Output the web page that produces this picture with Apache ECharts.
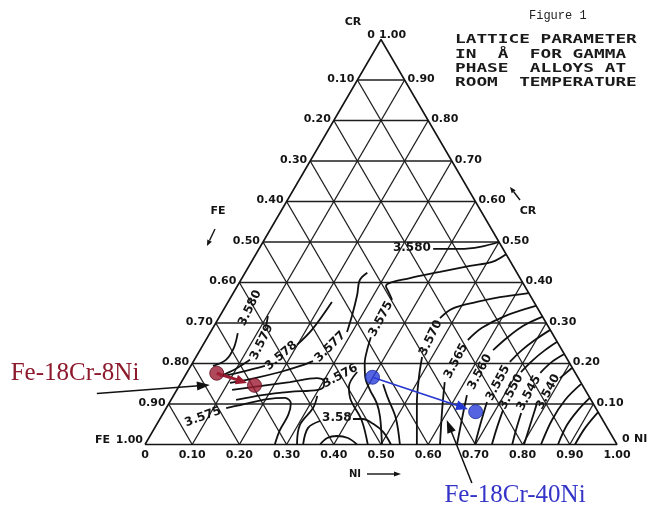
<!DOCTYPE html>
<html>
<head>
<meta charset="utf-8">
<script src="https://cdn.jsdelivr.net/npm/echarts@6/dist/echarts.min.js"></script>
<style>
  html, body { margin: 0; padding: 0; background: #ffffff; }
  #chart { width: 652px; height: 512px; }
</style>
</head>
<body>
<div id="chart"></div>
<script>
// Compositions are written as [Ni %, Cr %]; Fe is the balance to 100 %.

// ---- grid and tick labels ----
const gridTicks = [10, 20, 30, 40, 50, 60, 70, 80, 90];
const niTickLabels = ['0', '0.10', '0.20', '0.30', '0.40', '0.50', '0.60', '0.70', '0.80', '0.90', '1.00'];
const feTickLabels = ['0.10', '0.20', '0.30', '0.40', '0.50', '0.60', '0.70', '0.80', '0.90']; // left edge, top to bottom
const crTickLabels = ['0.90', '0.80', '0.70', '0.60', '0.50', '0.40', '0.30', '0.20', '0.10']; // right edge, top to bottom
const feCornerLabels = ['FE', '1.00'];
const niCornerLabels = ['0', 'NI'];
const crCornerLabels = ['0', '1.00', 'CR'];

// ---- iso-lattice-parameter lines (Å) ----
const iso3580L   = [[4.7, 19.4], [6.7, 20.9], [6.9, 23.8], [5.9, 27.5]];
const iso3579Lo  = [[7.4, 16.9], [9.8, 18.6], [11.8, 20.9]];
const iso3579Hi  = [[11.0, 29.3], [10.2, 31.7]];
const iso3578Lo  = [[8.1, 16.9], [12.1, 18.1], [15.7, 19.4]];
const iso3578Hi  = [[19.9, 24.6], [21.2, 28.3], [22.0, 35.2]];
const iso3577Lo  = [[10.4, 15.2], [15.1, 16.4], [19.7, 17.9], [23.2, 19.4], [25.3, 20.6]];
const iso3577Hi  = [[28.9, 27.8], [27.9, 32.0], [26.5, 36.9], [25.2, 40.6], [25.9, 42.4]];
const iso3576Loop = [[11.7, 13.5], [17.1, 14.4], [23.0, 15.4], [28.2, 16.4], [30.1, 15.7], [30.7, 14.4],
                     [29.9, 13.5], [24.2, 13.0], [18.7, 12.2], [13.8, 11.0]];
const iso3576Tail = [[36.0, 17.9], [36.1, 14.2], [38.1, 11.0], [42.9, 6.0], [47.2, 0]];
const iso3575L   = [[12.7, 9.0], [15.3, 9.75], [20.4, 11.2], [23.9, 11.5], [25.8, 10.2], [26.7, 7.3], [26.8, 3.6], [27.5, 0]];
const iso3575In  = [[30.5, 12.0], [31.1, 9.0], [30.4, 4.8], [32.2, 0]];
const iso358L    = [[33.5, 0], [32.5, 4.1], [34.2, 5.8]];
const iso358R    = [[40.9, 6.3], [43.0, 6.3], [45.8, 5.1], [48.9, 3.1], [52.1, 0]];
const iso358Core = [[37.1, 0], [37.8, 1.6], [39.6, 2.1], [42.2, 1.6], [44.9, 0]];
const iso3575Up  = [[53.0, 47.0], [51.0, 45.1], [46.8, 44.1], [41.2, 42.6], [35.6, 41.1], [31.5, 39.1], [33.0, 37.4], [34.5, 35.7]];
const iso3575Dn  = [[34.6, 26.5], [35.4, 23.3], [36.5, 20.1], [38.3, 16.7], [40.9, 13.5], [44.0, 10.2], [46.4, 6.8], [50.2, 0]];
const iso3575Side = [[43.0, 14.9], [45.7, 11.5], [49.9, 6.5], [54.0, 0]];
const iso3580R   = [[36.9, 48.3], [42.6, 48.3], [46.6, 48.8], [50.0, 50.0]];
const iso3570Up  = [[62.6, 37.4], [57.0, 36.4], [52.7, 35.2], [48.3, 33.5], [46.9, 31.2]];
const iso3570Dn  = [[47.9, 21.6], [49.7, 16.7], [52.5, 10.2], [57.6, 0]];
const iso3565Up  = [[65.7, 34.2], [60.4, 31.7], [57.0, 28.8], [55.5, 25.8]];
const iso3565Dn  = [[55.8, 15.4], [58.7, 8.5], [62.5, 0]];
const iso3560Up  = [[68.4, 31.5], [65.5, 29.3], [63.5, 26.3], [62.1, 23.3]];
const iso3560Dn  = [[62.1, 12.2], [64.1, 6.0], [66.1, 0]];
const iso3555Up  = [[71.7, 28.3], [69.7, 25.8], [68.2, 23.3], [67.1, 20.4]];
const iso3555Dn  = [[67.2, 10.5], [68.4, 5.6], [69.9, 0]];
const iso3550Up  = [[74.6, 25.3], [73.1, 23.3], [71.8, 20.9], [70.7, 17.9]];
const iso3550Dn  = [[71.6, 8.5], [72.5, 4.1], [73.5, 0]];
const iso3545Up  = [[77.6, 22.3], [76.0, 20.4], [74.9, 17.7]];
const iso3545Dn  = [[75.8, 7.8], [76.8, 3.6], [77.8, 0]];
const iso3540Up  = [[81.0, 18.9], [79.7, 16.4]];
const iso3540Dn  = [[78.0, 10.0], [79.2, 4.8], [80.3, 0]];
const isoEdge1   = [[83.9, 0], [83.2, 6.0], [83.5, 11.0], [84.9, 14.9]];
const isoEdge2   = [[87.5, 0], [87.0, 4.8], [87.5, 8.5], [88.5, 11.5]];
const isoEdge3   = [[91.1, 0], [91.2, 4.1], [92.0, 8.0]];

// label text and anchor [text, Ni %, Cr %]
const contourLabels = [
  ['3.580', 5.4, 33.7], ['3.579', 12.1, 25.3], ['3.578', 17.9, 21.9], ['3.577', 27.2, 24.1],
  ['3.576', 32.9, 16.9], ['3.575', 8.9, 6.8], ['3.58', 37.4, 6.5], ['3.575', 34.5, 31.0],
  ['3.580', 32.3, 48.5], ['3.570', 47.4, 26.3], ['3.565', 55.6, 20.6], ['3.560', 62.0, 17.9],
  ['3.555', 67.2, 15.2], ['3.550', 71.1, 13.0], ['3.545', 75.0, 12.7], ['3.540', 78.9, 13.0]
];
const contourLabelAngles = [64, 64, 40, 45, 28, 20, 0, 62, 0, 64, 62, 62, 62, 62, 62, 62];

// ---- alloys: nominal composition -> shifted composition ----
const fe18cr8ni  = [[6.4, 17.6], [15.9, 14.6]];
const fe18cr40ni = [[39.9, 16.6], [66.0, 8.1]];
// callout pointers (tail, tip)
const pointer8ni  = [[-16.5, 12.6], [6.4, 14.7]];
const pointer40ni = [[74.0, -9.5], [60.9, 6.05]];

// ---- helpers ----
function toXY(p) { return [(p[0] + p[1] / 2) / 100, p[1] / 100]; }

const ink = '#141414';
const numFont = 'DejaVu Sans';
const numSize = 11;
const numWeight = 'bold';

function polyline(points, width, color, smooth, z) {
  return {
    type: 'line', data: points.map(toXY), symbol: 'none', showSymbol: false,
    smooth: smooth, silent: true, clip: false, z: z,
    lineStyle: { color: color, width: width }
  };
}

function numText(s, x, y, align, size) {
  return { type: 'text', x: x, y: y,
    style: { text: s, fill: ink, fontFamily: numFont, fontSize: size || numSize, fontWeight: numWeight,
             align: align, verticalAlign: 'middle' } };
}

function arrowGroup(p1, p2, back, headLen, headW, color, width) {
  const dx = p2[0] - p1[0], dy = p2[1] - p1[1];
  const len = Math.hypot(dx, dy) || 1;
  const ux = dx / len, uy = dy / len, px = -uy, py = ux;
  const tip = [p2[0] - ux * back, p2[1] - uy * back];
  const base = [tip[0] - ux * headLen, tip[1] - uy * headLen];
  return {
    type: 'group', children: [
      { type: 'line', shape: { x1: p1[0], y1: p1[1], x2: base[0] + ux * 2, y2: base[1] + uy * 2 },
        style: { stroke: color, lineWidth: width } },
      { type: 'polygon', shape: { points: [tip,
          [base[0] + px * headW / 2, base[1] + py * headW / 2],
          [base[0] - px * headW / 2, base[1] - py * headW / 2]] },
        style: { fill: color } }
    ]
  };
}

// ---- series ----
const series = [];

// triangle frame and 0.10 grid
const gridSegments = [];
gridTicks.forEach(function (t) {
  gridSegments.push([[0, t], [100 - t, t]]);      // constant Cr
  gridSegments.push([[t, 0], [t, 100 - t]]);      // constant Ni
  gridSegments.push([[100 - t, 0], [0, 100 - t]]); // constant Fe
});
gridSegments.forEach(function (s) { series.push(polyline(s, 1.3, '#1e1e1e', false, 1)); });
series.push(polyline([[0, 0], [100, 0], [0, 100], [0, 0]], 1.6, ink, false, 2));

// contour lines
[iso3580L, iso3579Lo, iso3579Hi, iso3578Lo, iso3578Hi, iso3577Lo, iso3577Hi, iso3576Loop, iso3576Tail,
 iso3575L, iso3575In, iso358L, iso358R, iso358Core, iso3575Up, iso3575Dn, iso3575Side, iso3580R,
 iso3570Up, iso3570Dn, iso3565Up, iso3565Dn, iso3560Up, iso3560Dn, iso3555Up, iso3555Dn,
 iso3550Up, iso3550Dn, iso3545Up, iso3545Dn, iso3540Up, iso3540Dn, isoEdge1, isoEdge2, isoEdge3
].forEach(function (c) { series.push(polyline(c, 1.8, '#111111', 0.35, 3)); });

// contour value labels
series.push({
  type: 'custom', coordinateSystem: 'cartesian2d', silent: true, z: 6,
  data: contourLabels.map(function (l) { return toXY([l[1], l[2]]); }),
  renderItem: function (params, api) {
    const i = params.dataIndex;
    const p = api.coord([api.value(0), api.value(1)]);
    const t = numText(contourLabels[i][0], p[0], p[1], 'center', 12);
    t.rotation = contourLabelAngles[i] * Math.PI / 180;
    return t;
  }
});

// left edge (Fe) and right edge (Cr) tick labels
series.push({
  type: 'custom', coordinateSystem: 'cartesian2d', silent: true, z: 6,
  data: feTickLabels.map(function (t, k) { return toXY([0, 90 - 10 * k]); }),
  renderItem: function (params, api) {
    const p = api.coord([api.value(0), api.value(1)]);
    return numText(feTickLabels[params.dataIndex], p[0] - 3, p[1] - 1, 'right');
  }
});
series.push({
  type: 'custom', coordinateSystem: 'cartesian2d', silent: true, z: 6,
  data: crTickLabels.map(function (t, k) { const cr = 90 - 10 * k; return toXY([100 - cr, cr]); }),
  renderItem: function (params, api) {
    const p = api.coord([api.value(0), api.value(1)]);
    return numText(crTickLabels[params.dataIndex], p[0] + 3, p[1] - 1, 'left');
  }
});

// corner labels
series.push({
  type: 'custom', coordinateSystem: 'cartesian2d', silent: true, z: 6,
  data: [toXY([0, 0]), toXY([100, 0]), toXY([0, 100])],
  renderItem: function (params, api) {
    const p = api.coord([api.value(0), api.value(1)]);
    let kids;
    if (params.dataIndex === 0) {
      kids = [numText(feCornerLabels[0], p[0] - 35, p[1] - 4, 'right'),
              numText(feCornerLabels[1], p[0] - 2, p[1] - 4, 'right')];
    } else if (params.dataIndex === 1) {
      kids = [numText(niCornerLabels[0], p[0] + 5, p[1] - 5, 'left'),
              numText(niCornerLabels[1], p[0] + 17, p[1] - 5, 'left')];
    } else {
      kids = [numText(crCornerLabels[0], p[0] - 6, p[1] - 4, 'right'),
              numText(crCornerLabels[1], p[0] - 2, p[1] - 4, 'left'),
              numText(crCornerLabels[2], p[0] - 28, p[1] - 17, 'center')];
    }
    return { type: 'group', children: kids };
  }
});

// alloy shift arrows
const shiftArrowStyles = [
  { color: '#9a1a30', width: 3, head: 11, headW: 10 },
  { color: '#2236d0', width: 1.6, head: 12, headW: 10 }
];
series.push({
  type: 'custom', coordinateSystem: 'cartesian2d', silent: true, z: 8,
  data: [fe18cr8ni, fe18cr40ni].map(function (a) { return toXY(a[0]).concat(toXY(a[1])); }),
  encode: { x: [0, 2], y: [1, 3] },
  renderItem: function (params, api) {
    const s = shiftArrowStyles[params.dataIndex];
    const p1 = api.coord([api.value(0), api.value(1)]);
    const p2 = api.coord([api.value(2), api.value(3)]);
    return arrowGroup(p1, p2, 8, s.head, s.headW, s.color, s.width);
  }
});
series.push({
  type: 'scatter', data: fe18cr8ni.map(toXY), symbol: 'circle', symbolSize: 14, silent: true, z: 10,
  itemStyle: { color: '#9c1c33', borderColor: '#5e0d1c', borderWidth: 1 }
});
series.push({
  type: 'scatter', data: fe18cr40ni.map(toXY), symbol: 'circle', symbolSize: 14, silent: true, z: 10,
  itemStyle: { color: '#2b3fdb', borderColor: '#1a2a9c', borderWidth: 1 }
});

// callout pointers
series.push({
  type: 'custom', coordinateSystem: 'cartesian2d', silent: true, z: 9, clip: false,
  data: [pointer8ni, pointer40ni].map(function (a) { return toXY(a[0]).concat(toXY(a[1])); }),
  encode: { x: [0, 2], y: [1, 3] },
  renderItem: function (params, api) {
    const p1 = api.coord([api.value(0), api.value(1)]);
    const p2 = api.coord([api.value(2), api.value(3)]);
    return arrowGroup(p1, p2, 0, 13, 9, '#111111', 1.5);
  }
});

// ---- decorations: title block, axis names, callout texts ----
function pixelArrow(x1, y1, x2, y2, headLen, headW) {
  const dx = x2 - x1, dy = y2 - y1, len = Math.hypot(dx, dy);
  const ux = dx / len, uy = dy / len, px = -uy, py = ux;
  const bx = x2 - ux * headLen, by = y2 - uy * headLen;
  return [
    { type: 'line', shape: { x1: x1, y1: y1, x2: bx, y2: by }, style: { stroke: ink, lineWidth: 1.4 } },
    { type: 'polygon', shape: { points: [[x2, y2], [bx + px * headW / 2, by + py * headW / 2],
        [bx - px * headW / 2, by - py * headW / 2]] }, style: { fill: ink } }
  ];
}
function label(text, x, y, size, family, color, align, sx, weight) {
  return { type: 'text', x: x, y: y, scaleX: sx || 1, z: 20,
    style: { text: text, fill: color, fontFamily: family, fontSize: size, fontWeight: weight || 'normal',
             align: align, verticalAlign: 'middle' } };
}
const mono = 'DejaVu Sans Mono';
const graphic = [
  label('Figure 1', 529, 16, 12, 'Liberation Mono', '#222', 'left', 1),
  label('LATTICE PARAMETER', 455, 40, 12, mono, '#1a1a1a', 'left', 1.48, 'bold'),
  label('IN  Å  FOR GAMMA', 455, 55, 12, mono, '#1a1a1a', 'left', 1.48, 'bold'),
  label('PHASE  ALLOYS AT', 455, 69, 12, mono, '#1a1a1a', 'left', 1.48, 'bold'),
  label('ROOM  TEMPERATURE', 455, 83, 12, mono, '#1a1a1a', 'left', 1.48, 'bold'),
  label('FE', 218, 211, 11, numFont, ink, 'center', 1, 'bold'),
  label('CR', 528, 211, 11, numFont, ink, 'center', 1, 'bold'),
  label('NI', 355, 474, 10, numFont, ink, 'center', 1, 'bold'),
  label('Fe-18Cr-8Ni', 75, 373, 25, 'Liberation Serif', '#8c1a2c', 'center'),
  label('Fe-18Cr-40Ni', 515, 495, 25, 'Liberation Serif', '#3434c8', 'center')
].concat(pixelArrow(215, 229, 207, 246, 6, 5))
 .concat(pixelArrow(520, 200, 510, 187, 6, 5))
 .concat(pixelArrow(367, 474, 401, 474, 7, 5));

const chart = echarts.init(document.getElementById('chart'), null, { renderer: 'canvas' });
chart.setOption({
  animation: false,
  backgroundColor: '#ffffff',
  grid: { left: 145, top: 39.5, width: 472, height: 405, containLabel: false },
  xAxis: {
    type: 'value', min: 0, max: 1, interval: 0.1,
    axisLine: { show: false }, axisTick: { show: false }, splitLine: { show: false },
    axisLabel: {
      margin: 5, fontFamily: numFont, fontSize: numSize, fontWeight: numWeight, color: ink,
      showMinLabel: true, showMaxLabel: true,
      formatter: function (v) { return niTickLabels[Math.round(v * 10)]; }
    }
  },
  yAxis: { type: 'value', min: 0, max: 1, show: false },
  graphic: graphic,
  series: series
});
</script>
</body>
</html>
